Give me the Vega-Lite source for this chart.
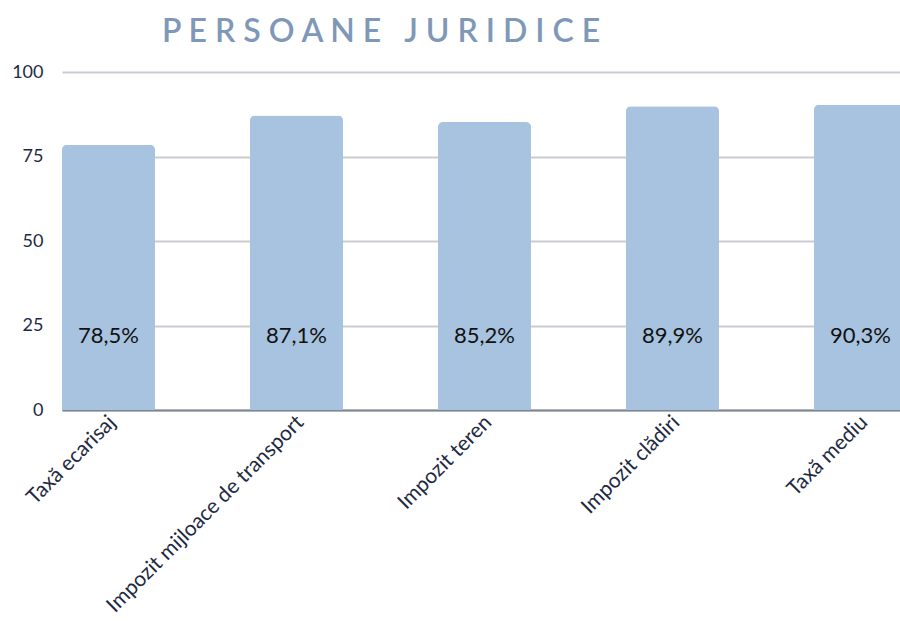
{
  "$schema": "https://vega.github.io/schema/vega-lite/v6.json",
  "autosize": {"type": "none"},
  "padding": {"left": 62, "top": 72, "right": 0, "bottom": 224},
  "width": 845,
  "height": 338,
  "background": "white",
  "title": {
    "text": "P E R S O A N E \u00a0 J U R I D I C E",
    "anchor": "start",
    "frame": "group",
    "dx": 100,
    "offset": 14,
    "font": "Lato",
    "fontSize": 32,
    "fontWeight": 600,
    "color": "#7f98b8"
  },
  "data": {
    "values": [
      {"categorie": "Taxă ecarisaj", "procent": 78.5, "eticheta": "78,5%"},
      {"categorie": "Impozit mijloace de transport", "procent": 87.1, "eticheta": "87,1%"},
      {"categorie": "Impozit teren", "procent": 85.2, "eticheta": "85,2%"},
      {"categorie": "Impozit clădiri", "procent": 89.9, "eticheta": "89,9%"},
      {"categorie": "Taxă mediu", "procent": 90.3, "eticheta": "90,3%"}
    ]
  },
  "encoding": {
    "x": {
      "field": "categorie",
      "type": "nominal",
      "sort": null,
      "scale": {"paddingInner": 0.505, "paddingOuter": 0},
      "axis": {
        "title": null,
        "labelAngle": -45,
        "labelAlign": "right",
        "labelBaseline": "middle",
        "labelPadding": 9,
        "labelOffset": 4,
        "labelFont": "Lato",
        "labelFontSize": 21,
        "labelColor": "#1e2a44",
        "ticks": false,
        "domain": true,
        "domainColor": "#7d8591",
        "domainWidth": 2,
        "labelLimit": 400
      }
    }
  },
  "layer": [
    {
      "mark": {"type": "bar", "color": "#a7c3e0", "cornerRadiusTopLeft": 5, "cornerRadiusTopRight": 5},
      "encoding": {
        "y": {
          "field": "procent",
          "type": "quantitative",
          "scale": {"domain": [0, 100]},
          "axis": {
            "title": null,
            "values": [0, 25, 50, 75, 100],
            "domain": false,
            "ticks": false,
            "labelPadding": 19,
            "labelFont": "Lato",
            "labelFontSize": 18,
            "labelColor": "#1e2a44",
            "gridColor": "#c9ccd1",
            "gridWidth": 2
          }
        }
      }
    },
    {
      "mark": {"type": "text", "font": "Lato", "fontSize": 22, "color": "#111111", "baseline": "middle"},
      "encoding": {
        "y": {"datum": 22, "type": "quantitative"},
        "text": {"field": "eticheta"}
      }
    }
  ],
  "config": {"view": {"stroke": null}}
}
